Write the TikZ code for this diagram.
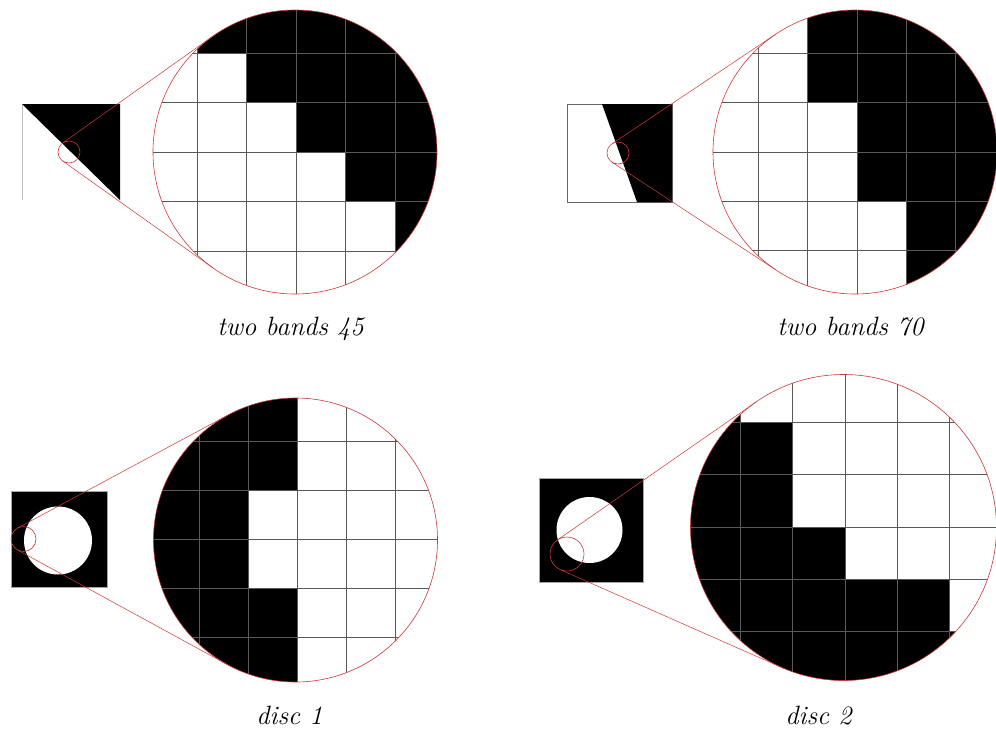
\documentclass[tikz,border=0pt]{standalone}

\definecolor{lensred}{RGB}{205,55,55}

\tikzset{
  lens/.style={circle, draw=lensred, line width=0.6pt, inner sep=0pt, outer sep=0pt},
  lensline/.style={draw=lensred, line width=0.5pt},
  pixgrid/.style={draw=black!65, line width=0.6pt},
  subcap/.style={font=\fontsize{26.5}{31}\selectfont\itshape, anchor=base}
}

\begin{document}
\begin{tikzpicture}[x=1pt, y=-1pt]
\useasboundingbox (0,0) rectangle (996,729);

%% ================= TOP LEFT: two bands 45 =================
% small picture
\draw[black!25] (22,104) -- (22,200);
\fill (22,104) -- (120,104) -- (120,200) -- cycle;

% magnified pixels, black where column > row
\begin{scope}
  \clip (295,152) circle[radius=142];
  \foreach \r in {-4,...,3}
    \fill ({296+49.5*(\r+1)}, {152+49.5*\r}) rectangle ({296+49.5*5}, {152+49.5*(\r+1)});
  \foreach \k in {-3,...,3} {
    \draw[pixgrid] ({296+49.5*\k}, {152-49.5*4}) -- ({296+49.5*\k}, {152+49.5*4});
    \draw[pixgrid] ({296-49.5*4}, {152+49.5*\k}) -- ({296+49.5*4}, {152+49.5*\k});
  }
\end{scope}
\node[lens, minimum size=284pt] (big45) at (295,152) {};
\node[lens, minimum size=22pt] (spot45) at (69,152) {};
\draw[lensline] (spot45.125) -- (big45.125);
\draw[lensline] (spot45.235) -- (big45.235);
\node[subcap] (cap45) at (290.5,335) {two bands 45};

%% ================= TOP RIGHT: two bands 70 =================
\draw[black!60] (567,104) rectangle (672,202);
\fill (602,104) -- (672,104) -- (672,202) -- (637,202) -- cycle;

% row / first black column
\begin{scope}
  \clip (855,152) circle[radius=142];
  \foreach \r/\t in {-4/-2,-3/-1,-2/-1,-1/0,0/0,1/1,2/1,3/2}
    \fill ({857+49.25*\t}, {152+49.25*\r}) rectangle ({857+49.25*5}, {152+49.25*(\r+1)});
  \foreach \k in {-3,...,3} {
    \draw[pixgrid] ({857+49.25*\k}, {152-49.25*4}) -- ({857+49.25*\k}, {152+49.25*4});
    \draw[pixgrid] ({857-49.25*4}, {152+49.25*\k}) -- ({857+49.25*4}, {152+49.25*\k});
  }
\end{scope}
\node[lens, minimum size=284pt] (big70) at (855,152) {};
\node[lens, minimum size=22pt] (spot70) at (618,153) {};
\draw[lensline] (spot70.124) -- (big70.124);
\draw[lensline] (spot70.236) -- (big70.236);
\node[subcap] (cap70) at (850.5,335) {two bands 70};

%% ================= BOTTOM LEFT: disc 1 =================
\fill (11,491) rectangle (107,587);
\draw[black!35] (11,491) rectangle (107,587);
\fill[white] (58,540.5) circle[radius=34];

% row / first white column
\begin{scope}
  \clip (295.5,540) circle[radius=142];
  \foreach \r/\t in {-4/0,-3/0,-2/0,-1/-1,0/-1,1/0,2/0,3/0}
    \fill ({297-49*5}, {539+49*\r}) rectangle ({297+49*\t}, {539+49*(\r+1)});
  \foreach \k in {-3,...,3} {
    \draw[pixgrid] ({297+49*\k}, {539-49*4}) -- ({297+49*\k}, {539+49*4});
    \draw[pixgrid] ({297-49*4}, {539+49*\k}) -- ({297+49*4}, {539+49*\k});
  }
\end{scope}
\node[lens, minimum size=284pt] (bigdA) at (295.5,540) {};
\node[lens, minimum size=25pt] (spotdA) at (23.5,539) {};
\draw[lensline] (spotdA.118) -- (bigdA.118);
\draw[lensline] (spotdA.242) -- (bigdA.242);
\node[subcap] (capdA) at (289.5,724) {disc 1};

%% ================= BOTTOM RIGHT: disc 2 =================
\fill (539,478) rectangle (643,582);
\draw[black!35] (539,478) rectangle (643,582);
\fill[white] (589.5,530) circle[radius=33];

\begin{scope}
  \clip (843.5,527.5) circle[radius=153];
  \foreach \r/\t in {-4/-2,-3/-2,-2/-1,-1/-1,0/0,1/2,2/3,3/3}
    \fill ({845-52.3*5}, {527+52.3*\r}) rectangle ({845+52.3*\t}, {527+52.3*(\r+1)});
  \foreach \k in {-3,...,3} {
    \draw[pixgrid] ({845+52.3*\k}, {527-52.3*4}) -- ({845+52.3*\k}, {527+52.3*4});
    \draw[pixgrid] ({845-52.3*4}, {527+52.3*\k}) -- ({845+52.3*4}, {527+52.3*\k});
  }
\end{scope}
\node[lens, minimum size=306pt] (bigdB) at (843.5,527.5) {};
\node[lens, minimum size=34pt] (spotdB) at (567,554) {};
\draw[lensline] (spotdB.125) -- (bigdB.125);
\draw[lensline] (spotdB.246) -- (bigdB.246);
\node[subcap] (capdB) at (818.5,724) {disc 2};

\end{tikzpicture}
\end{document}
